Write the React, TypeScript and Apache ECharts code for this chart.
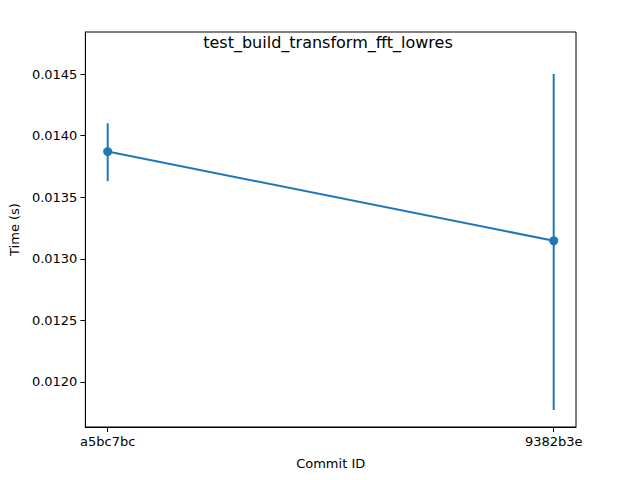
import { useEffect, useRef } from "react";
import * as echarts from "echarts";

const commits = ["a5bc7bc", "9382b3e"];
const times = [0.01387, 0.013146];
const errLow = [0.01363, 0.011772];
const errHigh = [0.0141, 0.0145];
const yTicks = [0.012, 0.0125, 0.013, 0.0135, 0.014, 0.0145];

const BLUE = "#1f77b4";
const FONT = "DejaVu Sans";

export default function App() {
    const ref = useRef<HTMLDivElement | null>(null);

    useEffect(() => {
        if (!ref.current) return;
        const chart = echarts.init(ref.current, undefined, { renderer: "svg" });

        const option: any = {
            animation: false,
            backgroundColor: "#ffffff",
            textStyle: { fontFamily: FONT },
            title: {
                text: "test_build_transform_fft_lowres",
                left: 328,
                textAlign: "center",
                top: 34,
                padding: 0,
                textStyle: { fontSize: 16, fontWeight: "normal", color: "#000", fontFamily: FONT },
            },
            grid: { left: 80, right: 64, top: 32, bottom: 53, show: true, borderColor: "#000", borderWidth: 1, backgroundColor: "transparent" },
            xAxis: {
                type: "value",
                min: -0.05,
                max: 1.05,
                name: "Commit ID",
                nameLocation: "middle",
                nameGap: 30,
                nameTextStyle: { fontSize: 13, color: "#000", fontFamily: FONT },
                axisLine: { show: true, onZero: false, lineStyle: { color: "#000" } },
                axisTick: { show: true, customValues: [0, 1], length: 5, lineStyle: { color: "#000" } },
                axisLabel: {
                    customValues: [0, 1],
                    fontSize: 13,
                    color: "#000",
                    margin: 8,
                    fontFamily: FONT,
                    formatter: (v: number) => commits[Math.round(v)] ?? "",
                },
                splitLine: { show: false },
            },
            yAxis: {
                type: "value",
                min: 0.011634,
                max: 0.014841,
                name: "Time (s)",
                nameLocation: "middle",
                nameGap: 64,
                nameTextStyle: { fontSize: 13, color: "#000", fontFamily: FONT },
                axisLine: { show: true, onZero: false, lineStyle: { color: "#000" } },
                axisTick: { show: true, customValues: yTicks, length: 5, lineStyle: { color: "#000" } },
                axisLabel: {
                    customValues: yTicks,
                    fontSize: 13,
                    color: "#000",
                    margin: 8,
                    fontFamily: FONT,
                    formatter: (v: number) => v.toFixed(4),
                },
                splitLine: { show: false },
            },
            series: [
                {
                    type: "custom",
                    data: commits.map((_, i) => [i, errLow[i], errHigh[i]]),
                    renderItem: (_p: any, api: any) => {
                        const a = api.coord([api.value(0), api.value(1)]);
                        const b = api.coord([api.value(0), api.value(2)]);
                        return {
                            type: "line",
                            shape: { x1: a[0], y1: a[1], x2: b[0], y2: b[1] },
                            style: { stroke: BLUE, lineWidth: 2 },
                        };
                    },
                    z: 1,
                },
                {
                    type: "line",
                    data: times.map((t, i) => [i, t]),
                    symbol: "circle",
                    symbolSize: 9,
                    itemStyle: { color: BLUE },
                    lineStyle: { color: BLUE, width: 2 },
                    z: 2,
                },
            ],
        };
        chart.setOption(option);
        return () => chart.dispose();
    }, []);

    return <div ref={ref} style={{ width: 640, height: 480, margin: -8 }} />;
}
